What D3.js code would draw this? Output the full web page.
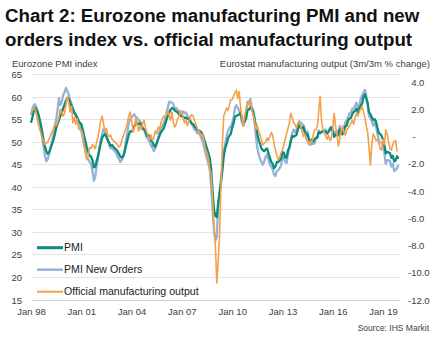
<!DOCTYPE html>
<html>
<head>
<meta charset="utf-8">
<script src="https://cdn.jsdelivr.net/npm/d3@7"></script>
<style>
  html, body { margin: 0; padding: 0; background: #fff; }
  svg { display: block; font-family: "Liberation Sans", Arial, sans-serif; }
</style>
</head>
<body>
<svg id="chart" width="443" height="341"></svg>
<script>
// ---------------- DATA ----------------
const titleLines = ["Chart 2: Eurozone manufacturing PMI and new",
                    "orders index vs. official manufacturing output"];
const leftAxisTitle = "Eurozone PMI index";
const rightAxisTitle = "Eurostat manufacturing output (3m/3m % change)";
const sourceText = "Source: IHS Markit";
const seriesNames = ["PMI", "PMI New Orders", "Official manufacturing output"];
const startYear = 1998; // monthly data starting Jan 1998
const xTickLabels = ["Jan 98","Jan 01","Jan 04","Jan 07","Jan 10","Jan 13","Jan 16","Jan 19"];
const leftTicks = [15,20,25,30,35,40,45,50,55,60,65];
const rightTicks = [-12,-10,-8,-6,-4,-2,0,2,4];

// PMI (monthly, Jan 1998 - Dec 2019)
const pmi = [
  54.3,55.5,56.8,57.6,57.2,56.5,55.4,54.0,52.3,50.5,49.0,48.0,
  47.4,47.8,48.6,49.5,50.4,51.6,53.0,54.0,54.8,55.8,56.5,57.5,
  58.3,59.2,59.8,59.5,58.8,58.0,57.3,56.5,56.0,55.5,54.8,54.3,
  54.0,52.8,51.5,50.2,48.8,47.8,47.0,46.8,46.0,44.4,44.6,45.8,
  47.0,48.5,49.8,51.0,51.5,51.8,51.2,50.4,49.8,49.2,49.4,49.0,
  48.6,48.4,48.0,47.4,46.8,46.6,46.8,47.8,49.2,50.4,51.6,52.4,
  52.4,52.6,53.6,54.0,54.2,54.0,54.2,53.8,53.0,52.8,52.4,51.4,
  51.6,51.0,50.4,50.0,49.2,49.0,49.8,50.6,51.4,52.2,52.6,53.0,
  54.0,55.0,55.8,56.6,57.2,57.6,57.4,57.0,56.8,56.6,56.2,56.0,
  55.7,55.6,55.4,55.4,55.2,55.0,54.6,54.2,54.0,53.5,53.2,52.8,
  52.6,52.4,52.2,51.6,50.6,49.6,48.6,47.6,46.4,44.0,39.0,35.0,
  33.6,33.4,36.4,38.8,41.0,43.8,46.8,48.6,49.6,50.8,51.4,51.8,
  53.2,54.2,55.6,55.8,56.0,56.1,56.6,55.2,54.1,54.6,55.3,57.1,
  57.2,57.8,57.4,56.8,55.4,53.6,52.0,50.4,49.6,48.6,48.2,48.0,
  48.4,48.6,47.6,46.6,45.6,45.2,44.2,44.6,45.6,45.6,46.0,46.2,
  47.8,47.6,46.6,46.6,48.2,48.8,50.2,51.4,51.2,51.4,51.6,52.8,
  54.0,53.2,53.0,53.4,52.2,51.8,51.8,50.6,50.2,50.6,50.1,50.6,
  51.0,51.0,52.2,52.0,52.2,52.5,52.4,52.3,52.0,52.3,52.8,53.2,
  52.3,51.2,51.6,51.7,51.5,52.8,52.0,51.7,52.6,53.5,53.7,54.9,
  55.2,55.4,56.2,56.7,57.0,57.4,56.6,57.4,58.1,58.5,60.1,60.6,
  59.6,58.6,56.6,56.2,55.5,54.9,55.1,54.6,53.2,52.0,51.8,51.4,
  50.5,49.3,47.5,47.9,47.7,47.6,46.5,47.0,45.7,45.9,46.9,46.3
];

// PMI New Orders (monthly, Jan 1998 - Dec 2019)
const newOrders = [
  56.0,57.4,58.2,58.4,57.6,56.4,55.0,53.2,51.0,49.2,47.0,45.8,
  46.2,47.4,48.6,50.0,51.6,53.0,55.0,57.0,59.8,58.2,58.8,60.4,
  61.0,62.0,61.4,60.6,59.4,58.6,57.6,56.6,56.2,55.2,54.6,53.6,
  52.6,51.0,49.4,48.0,46.6,46.2,45.6,45.2,43.6,41.4,42.4,44.6,
  46.6,48.6,50.6,51.8,52.9,52.4,51.4,50.6,49.4,48.6,48.9,48.4,
  48.0,47.6,46.8,46.3,45.6,46.0,46.8,48.0,50.4,52.0,54.2,55.0,
  55.6,55.8,56.2,55.6,55.4,54.8,54.8,53.8,53.2,52.6,51.8,51.0,
  50.6,50.0,49.2,48.8,48.0,48.6,49.6,51.0,52.4,53.0,53.6,54.2,
  55.1,56.6,57.6,59.0,58.8,58.8,58.4,57.4,57.6,57.2,56.8,56.6,
  56.6,56.8,56.4,56.6,55.8,55.6,55.0,54.0,53.6,52.8,52.6,52.0,
  52.0,51.6,50.8,50.0,48.8,47.6,46.4,45.2,43.8,40.2,34.6,30.6,
  28.2,29.0,35.6,38.4,41.6,44.6,47.6,49.6,51.4,52.4,53.2,53.4,
  54.2,55.4,57.6,58.2,57.6,57.0,56.6,54.4,53.6,54.8,56.6,59.0,
  58.8,59.6,57.8,57.2,54.8,51.4,48.8,47.4,46.2,45.6,45.0,45.8,
  46.8,47.3,46.2,45.0,44.6,44.0,42.8,42.5,43.6,43.8,44.2,44.8,
  46.8,46.6,45.6,45.4,47.4,48.8,50.4,52.0,52.8,52.2,52.6,53.6,
  54.6,54.4,54.0,53.8,52.8,51.2,52.4,50.4,49.4,49.6,49.6,49.8,
  50.8,51.2,52.6,52.0,52.4,52.4,52.6,52.8,51.8,52.4,53.2,53.4,
  53.2,51.6,52.2,52.4,52.2,53.6,52.2,52.4,53.2,54.4,54.8,55.6,
  56.4,56.6,57.4,57.6,58.0,58.8,57.6,58.0,59.6,60.4,61.0,61.6,
  60.4,58.2,55.8,55.4,54.6,53.6,54.4,53.6,51.8,50.4,50.0,49.8,
  49.2,47.4,45.2,46.0,46.0,45.8,44.6,45.2,43.6,43.8,44.2,45.0
];

// Official manufacturing output, 3m/3m % change (monthly, Jan 1998 - Nov 2019)
const output = [
  1.6,1.9,2.1,2.0,1.6,1.0,0.6,0.3,-0.1,-0.3,-0.6,-0.5,
  -0.4,-0.2,0.1,0.3,0.5,0.9,0.8,1.0,1.4,2.0,1.8,1.5,
  1.7,2.3,2.9,2.5,1.8,2.2,1.0,1.4,0.9,1.3,0.6,0.5,
  0.5,0.2,-0.6,-1.2,-1.7,-1.4,-0.8,-0.9,-0.6,-0.7,-0.9,-0.4,
  0.0,0.6,1.2,1.5,0.9,0.4,0.6,0.1,0.0,0.1,-0.2,-0.3,
  -0.4,-0.5,-0.6,-0.8,-0.7,-0.3,0.0,0.3,0.6,1.0,1.5,1.8,
  1.2,0.3,0.6,1.4,0.9,0.4,0.8,0.5,1.0,1.2,0.6,0.3,
  0.0,-0.2,0.1,-0.3,-0.1,0.4,0.2,0.7,0.5,1.0,1.3,1.5,
  1.4,1.6,1.9,1.5,1.2,1.8,1.0,0.7,0.9,1.3,1.5,1.9,
  1.8,1.3,1.0,1.2,0.8,1.1,1.4,1.6,1.5,1.2,0.9,0.6,
  0.4,0.3,0.0,0.2,-0.4,-1.0,-1.2,-1.6,-2.4,-2.8,-4.6,-6.8,
  -8.1,-10.75,-9.2,-7.3,-3.7,-0.6,1.5,1.8,2.1,1.9,2.3,2.7,
  2.7,3.0,3.2,3.4,2.8,3.3,2.2,1.4,0.75,1.6,2.0,2.5,
  2.3,2.6,2.0,1.6,1.2,0.5,0.8,0.4,0.1,-0.3,-0.6,-0.5,
  -0.4,-0.1,-0.3,0.0,0.3,0.1,-0.5,-1.0,-1.4,-1.7,-1.5,-1.2,
  -1.0,-0.6,-0.2,0.2,0.6,1.0,1.7,1.4,1.0,0.9,0.6,1.0,
  1.0,0.8,0.4,0.0,0.2,-0.2,-0.4,-0.6,-0.3,-0.5,0.1,0.5,
  0.5,0.8,1.8,2.95,1.2,0.5,0.3,0.0,-0.2,0.1,-0.3,-0.2,
  0.6,1.7,0.8,0.2,-0.7,-0.2,0.4,0.75,0.3,0.1,0.5,0.6,
  0.8,1.0,1.2,0.9,1.4,1.7,1.5,1.8,2.0,2.2,1.8,1.4,
  0.75,0.3,-0.8,-2.1,-0.6,0.2,0.0,-0.3,-0.2,-0.5,-0.9,-1.0,
  -0.2,-0.6,0.5,0.2,-0.4,-0.9,-1.0,-0.6,-0.35,-0.3,-1.1
];

const colors = { pmi: "#0b8c7c", orders: "#95b3d7", output: "#f5a04a" };

// ---------------- CHART ----------------
const svg = d3.select("#chart");
const plot = { left: 32, right: 400, top: 74.5, bottom: 300 };
const dateOf = i => new Date(startYear, i, 1);

const x = d3.scaleTime()
  .domain([new Date(startYear, 0, 1), new Date(2020, 0, 1)])
  .range([31, 399.8]);
const yL = d3.scaleLinear().domain([15, 65]).range([plot.bottom, plot.top]);
const yR = d3.scaleLinear().domain([-12, 4]).range([plot.bottom, 82]);

const textColor = "#404040";

// Title
svg.append("g").selectAll("text").data(titleLines).join("text")
  .attr("x", 5).attr("y", (d, i) => 21.5 + i * 24.5)
  .attr("font-size", 18.7).attr("font-weight", "bold").attr("fill", "#111")
  .text(d => d);

// Axis titles
svg.append("text").attr("x", 12).attr("y", 66.5)
  .attr("font-size", 9.5).attr("fill", textColor).text(leftAxisTitle);
svg.append("text").attr("x", 430).attr("y", 66.5).attr("text-anchor", "end")
  .attr("font-size", 9.5).attr("fill", textColor).text(rightAxisTitle);

// Gridlines
svg.append("g").selectAll("line").data(leftTicks).join("line")
  .attr("x1", plot.left).attr("x2", plot.right)
  .attr("y1", d => yL(d)).attr("y2", d => yL(d))
  .attr("stroke", d => d === 15 ? "#cfcfcf" : "#e3e3e3").attr("stroke-width", 1)
  .attr("shape-rendering", "crispEdges");

// Left axis
const gL = svg.append("g").attr("transform", `translate(${plot.left},0)`)
  .call(d3.axisLeft(yL).tickValues(leftTicks).tickSize(0).tickPadding(10));
gL.select(".domain").remove();
gL.selectAll("text").attr("font-size", 9.5).attr("fill", textColor)
  .attr("font-family", "Liberation Sans, Arial, sans-serif");

// Right axis
const fmtR = d => d === 0 ? "-" : d3.format(".1f")(d).replace("−", "-");
const gR = svg.append("g").attr("transform", `translate(${plot.right},0)`)
  .call(d3.axisRight(yR).tickValues(rightTicks).tickSize(0).tickPadding(8).tickFormat(fmtR));
gR.select(".domain").remove();
gR.selectAll("text").attr("font-size", 9.5).attr("fill", textColor)
  .attr("font-family", "Liberation Sans, Arial, sans-serif")
  .attr("dx", d => d > 0 ? 3.2 : (d === 0 ? 4.5 : 0));

// X axis
const parseTick = d3.timeParse("%b %y");
const gX = svg.append("g").attr("transform", `translate(0,${plot.bottom})`)
  .call(d3.axisBottom(x).tickValues(xTickLabels.map(parseTick)).tickSize(0).tickPadding(8)
    .tickFormat(d3.timeFormat("Jan %y")));
gX.select(".domain").remove();
gX.selectAll("text").attr("font-size", 9.5).attr("fill", textColor)
  .attr("font-family", "Liberation Sans, Arial, sans-serif");

// Lines
const lineL = d3.line().x((d, i) => x(dateOf(i))).y(d => yL(d));
const lineR = d3.line().x((d, i) => x(dateOf(i))).y(d => yR(d));

svg.append("path").datum(newOrders).attr("d", lineL)
  .attr("fill", "none").attr("stroke", colors.orders).attr("stroke-width", 2.3)
  .attr("stroke-linejoin", "round");
svg.append("path").datum(pmi).attr("d", lineL)
  .attr("fill", "none").attr("stroke", colors.pmi).attr("stroke-width", 2.3)
  .attr("stroke-linejoin", "round");
svg.append("path").datum(output).attr("d", lineR)
  .attr("fill", "none").attr("stroke", colors.output).attr("stroke-width", 1.6)
  .attr("stroke-linejoin", "round");

// Legend
const legendColors = [colors.pmi, colors.orders, colors.output];
const legendWidths = [3, 2.5, 2];
const lg = svg.append("g").selectAll("g").data(seriesNames).join("g")
  .attr("transform", (d, i) => `translate(37,${247.7 + i * 22})`);
lg.append("line").attr("x1", 0).attr("x2", 26).attr("y1", 0).attr("y2", 0)
  .attr("stroke", (d, i) => legendColors[i]).attr("stroke-width", (d, i) => legendWidths[i]);
lg.append("text").attr("x", 27).attr("y", 3.7).attr("font-size", 10.6).attr("fill", "#222")
  .text(d => d);

// Source
svg.append("text").attr("x", 429).attr("y", 331).attr("text-anchor", "end")
  .attr("font-size", 8.5).attr("fill", textColor).text(sourceText);
</script>
</body>
</html>
